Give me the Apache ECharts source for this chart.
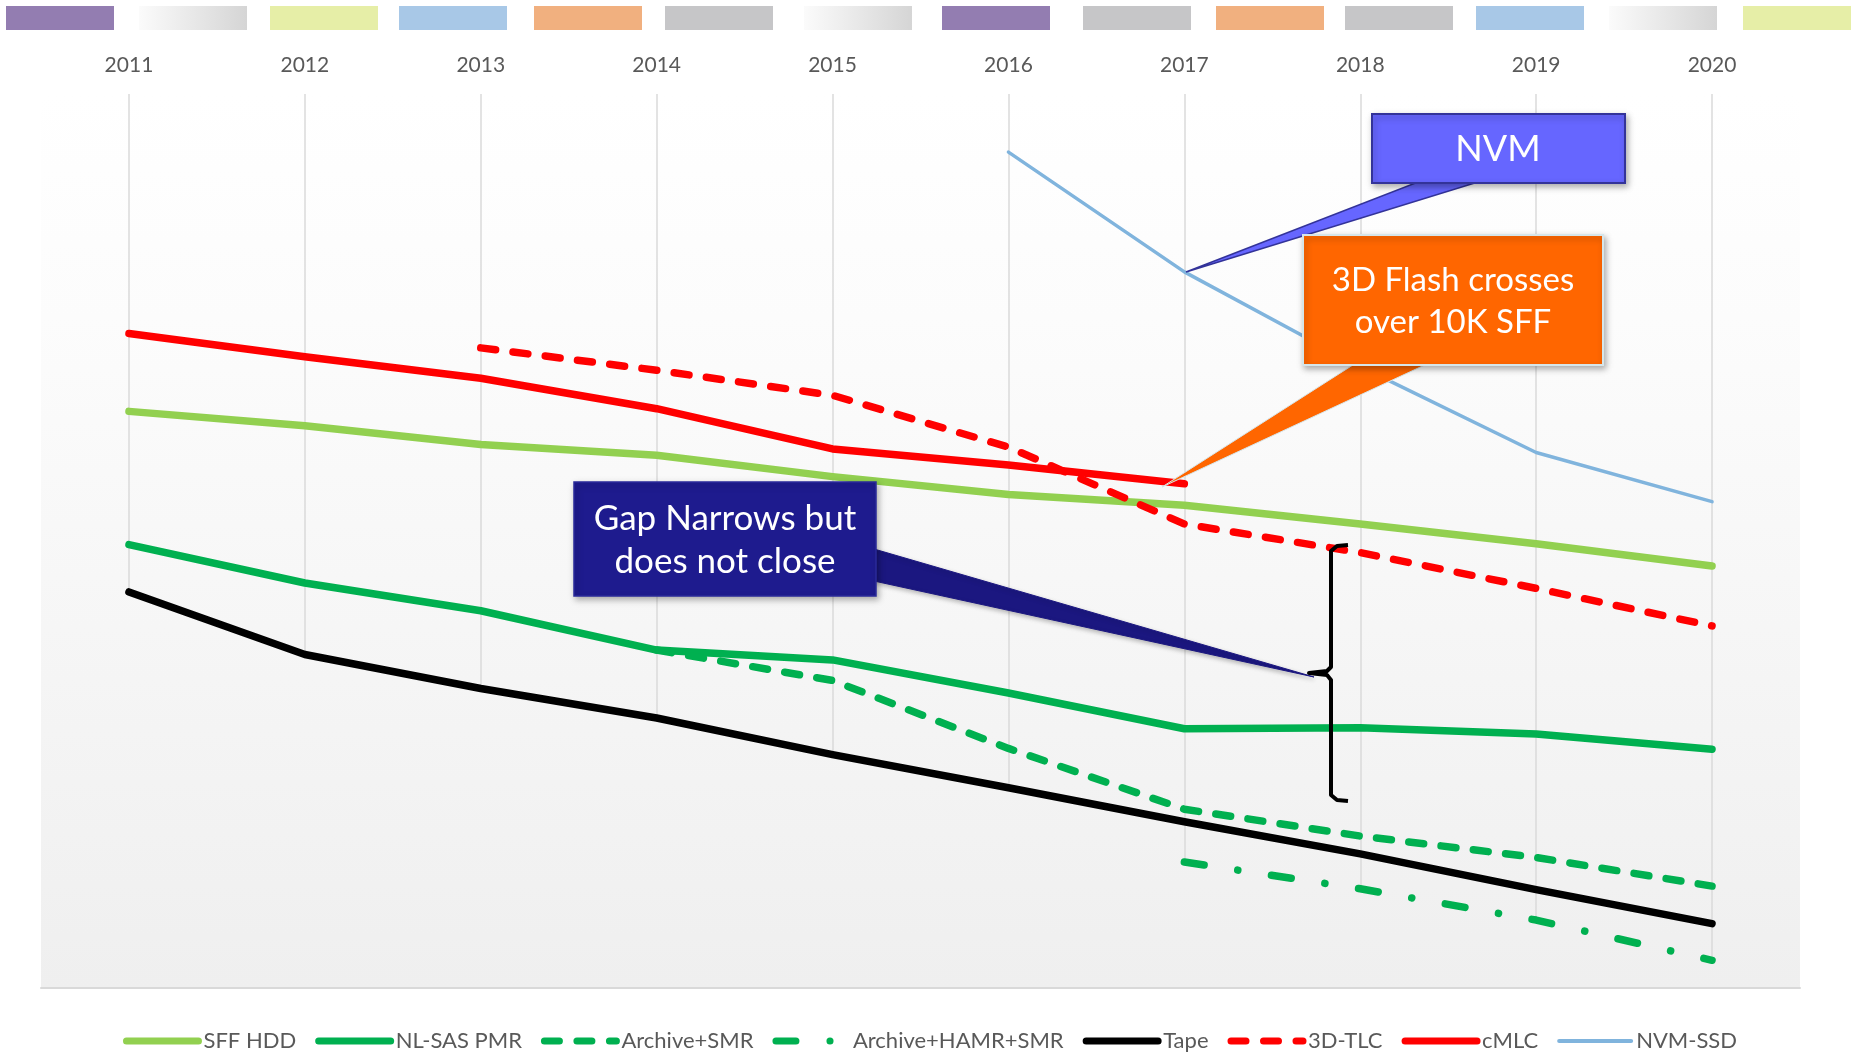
<!DOCTYPE html>
<html>
<head>
<meta charset="utf-8">
<title>Storage cost trends</title>
<script src="https://cdn.jsdelivr.net/npm/echarts@6/dist/echarts.min.js"></script>
<style>
  html, body { margin: 0; padding: 0; background: #fff; }
  #main { width: 1860px; height: 1052px; }
</style>
</head>
<body>
<div id="main"></div>
<script>
// categories
const years = ['2011', '2012', '2013', '2014', '2015', '2016', '2017', '2018', '2019', '2020'];

// series values (relative units)
const sffHdd = [64.5, 62.9, 60.8, 59.6, 57.2, 55.2, 54.0, 51.9, 49.7, 47.2];
const nlSasPmr = [49.6, 45.3, 42.2, 37.8, 36.7, 33.0, 29.0, 29.1, 28.4, 26.7];
const archiveSmr = [null, null, null, 37.8, 34.4, 26.8, 20.0, 17.0, 14.6, 11.4];
const archiveHamrSmr = [null, null, null, null, null, null, 14.1, 11.1, 7.6, 3.1];
const tape = [44.3, 37.3, 33.5, 30.2, 26.1, 22.4, 18.6, 15.0, 11.0, 7.2];
const tlc3d = [null, null, 71.6, 69.1, 66.3, 60.5, 51.9, 48.7, 44.7, 40.5];
const cmlc = [73.2, 70.6, 68.2, 64.8, 60.3, 58.5, 56.4, null, null, null];
const nvmSsd = [null, null, null, null, null, 93.5, 80.1, 69.5, 59.9, 54.4];

// decorative colour strip on top
const swatchX = [6, 139, 270, 399, 534, 665, 804, 942, 1083, 1216, 1345, 1476, 1609, 1743];
const swatchKind = ['purple', 'fade', 'lime', 'blue', 'orange', 'gray', 'fade',
  'purple', 'gray', 'orange', 'gray', 'blue', 'fade', 'lime'];

const FONT = 'Lato, "Noto Sans", sans-serif';

let myChart = echarts.init(document.getElementById('main'));

const swatchFill = {
  purple: '#937db1',
  lime: '#e6eea7',
  blue: '#a8c8e7',
  orange: '#f1b07f',
  gray: '#c6c6c8',
  fade: new echarts.graphic.LinearGradient(0, 0, 1, 0, [
    { offset: 0, color: '#fbfbfb' }, { offset: 1, color: '#d5d5d5' }
  ])
};

const allSeries = [sffHdd, nlSasPmr, archiveSmr, archiveHamrSmr, tape, tlc3d, cmlc, nvmSsd];

// drop lines from the top axis down to the lowest point of each year
const dropLines = years.map(function (y, i) {
  let low = Infinity;
  allSeries.forEach(function (s) {
    if (s[i] != null && s[i] < low) low = s[i];
  });
  return [{ coord: [i, 100] }, { coord: [i, low] }];
});

const DASH = [15, 17.5];
const DASH_DOT = [20, 34, 0.1, 34];

function lineSeries(name, data, color, width, type) {
  return {
    name: name,
    type: 'line',
    data: data,
    symbol: 'none',
    z: 3,
    lineStyle: { color: color, width: width, type: type || 'solid', cap: 'round', join: 'round' },
    itemStyle: { color: color },
    animation: false
  };
}

let graphics = [];
swatchX.forEach(function (x, i) {
  graphics.push({
    type: 'rect', z: 50,
    shape: { x: x, y: 6, width: 108, height: 24 },
    style: { fill: swatchFill[swatchKind[i]] }
  });
});

// NVM callout
graphics.push({
  type: 'polygon', z: 60,
  shape: { points: [[1418, 182], [1478, 182], [1186, 272]] },
  style: { fill: '#6666ff', stroke: '#333399', lineWidth: 1.5 }
});
graphics.push({
  type: 'rect', z: 61,
  shape: { x: 1372, y: 114, width: 253, height: 69 },
  style: { fill: '#6666ff', stroke: '#333399', lineWidth: 2, shadowBlur: 6, shadowOffsetX: 2, shadowOffsetY: 3, shadowColor: 'rgba(0,0,0,0.3)' }
});
graphics.push({
  type: 'text', z: 62,
  style: { text: 'NVM', x: 1498, y: 149, fill: '#fff', font: '36px ' + FONT, textAlign: 'center', textVerticalAlign: 'middle' }
});

// 3D flash callout
graphics.push({
  type: 'polygon', z: 63,
  shape: { points: [[1356, 363], [1429, 363], [1162, 487]] },
  style: { fill: '#ff6600', stroke: '#d6e6ea', lineWidth: 1 }
});
graphics.push({
  type: 'rect', z: 64,
  shape: { x: 1303, y: 235, width: 300, height: 130 },
  style: { fill: '#ff6600', stroke: '#d6e6ea', lineWidth: 2, shadowBlur: 6, shadowOffsetX: 2, shadowOffsetY: 3, shadowColor: 'rgba(0,0,0,0.3)' }
});
graphics.push({
  type: 'text', z: 65,
  style: { text: '3D Flash crosses\nover 10K SFF', x: 1453, y: 301, fill: '#fff', font: '33px ' + FONT, lineHeight: 42, textAlign: 'center', textVerticalAlign: 'middle' }
});

// gap callout
graphics.push({
  type: 'polygon', z: 60,
  shape: { points: [[874, 549], [874, 581], [1314, 677]] },
  style: { fill: '#1b1780', stroke: '#1b1780', lineWidth: 1, shadowBlur: 4, shadowOffsetY: 2, shadowColor: 'rgba(0,0,0,0.25)' }
});
graphics.push({
  type: 'rect', z: 61,
  shape: { x: 574, y: 482, width: 302, height: 114 },
  style: { fill: '#1e1b8e', stroke: '#2a2a9a', lineWidth: 1.5, shadowBlur: 6, shadowOffsetX: 2, shadowOffsetY: 3, shadowColor: 'rgba(0,0,0,0.3)' }
});
graphics.push({
  type: 'text', z: 62,
  style: { text: 'Gap Narrows but\ndoes not close', x: 725, y: 540, fill: '#fff', font: '35px ' + FONT, lineHeight: 43, textAlign: 'center', textVerticalAlign: 'middle' }
});

// bracket
graphics.push({
  type: 'polyline', z: 55,
  shape: { points: [[1348, 545], [1337, 546], [1331, 551], [1331, 667], [1327, 671], [1309, 673], [1327, 675], [1331, 680], [1331, 795], [1337, 800], [1348, 801]] },
  style: { stroke: '#000', lineWidth: 4, fill: null, lineJoin: 'round' }
});

function legendItem(name, width, type) {
  return { name: name, lineStyle: { width: width, type: type || 'solid', cap: 'round' } };
}

let option = {
  backgroundColor: '#ffffff',
  textStyle: { fontFamily: FONT },
  grid: {
    left: 41, right: 60, top: 94, bottom: 64,
    show: true, borderWidth: 0,
    backgroundColor: new echarts.graphic.LinearGradient(0, 0, 0, 1, [
      { offset: 0, color: '#ffffff' },
      { offset: 0.25, color: '#fcfcfc' },
      { offset: 1, color: '#efefef' }
    ])
  },
  legend: {
    data: [
      legendItem('SFF HDD', 7),
      legendItem('NL-SAS PMR', 7),
      legendItem('Archive+SMR', 7, DASH),
      legendItem('Archive+HAMR+SMR', 7, DASH_DOT),
      legendItem('Tape', 7),
      legendItem('3D-TLC', 7, DASH),
      legendItem('cMLC', 7),
      legendItem('NVM-SSD', 4)
    ],
    left: 'center',
    top: 1025,
    itemWidth: 72,
    itemHeight: 16,
    itemGap: 19,
    itemStyle: { opacity: 0 },
    lineStyle: { width: 7, cap: 'round' },
    textStyle: { color: '#595959', fontSize: 22, fontFamily: FONT }
  },
  xAxis: {
    type: 'category',
    position: 'top',
    data: years,
    boundaryGap: true,
    axisLine: { show: true, lineStyle: { color: '#d9d9d9', width: 2 } },
    axisTick: { show: false },
    axisLabel: { color: '#595959', fontSize: 21, margin: 18, fontFamily: FONT },
    splitLine: { show: false }
  },
  yAxis: {
    type: 'value',
    min: 0,
    max: 100,
    show: false,
    splitLine: { show: false }
  },
  graphic: graphics,
  series: [
    {
      name: 'dropLines',
      type: 'line',
      data: years.map(function () { return null; }),
      symbol: 'none',
      silent: true,
      z: 1,
      markLine: {
        z: 1,
        silent: true,
        symbol: ['none', 'none'],
        label: { show: false },
        lineStyle: { color: '#dadada', width: 1.5, type: 'solid' },
        data: dropLines,
        animation: false
      }
    },
    lineSeries('SFF HDD', sffHdd, '#92d050', 7.5),
    lineSeries('NL-SAS PMR', nlSasPmr, '#00b050', 7.5),
    lineSeries('Archive+SMR', archiveSmr, '#00b050', 7.5, DASH),
    lineSeries('Archive+HAMR+SMR', archiveHamrSmr, '#00b050', 7.5, DASH_DOT),
    lineSeries('Tape', tape, '#000000', 7.5),
    lineSeries('3D-TLC', tlc3d, '#ff0000', 7.5, DASH),
    lineSeries('cMLC', cmlc, '#ff0000', 7.5),
    lineSeries('NVM-SSD', nvmSsd, '#80b4dd', 3.5)
  ]
};

myChart.setOption(option, true);
</script>
</body>
</html>
